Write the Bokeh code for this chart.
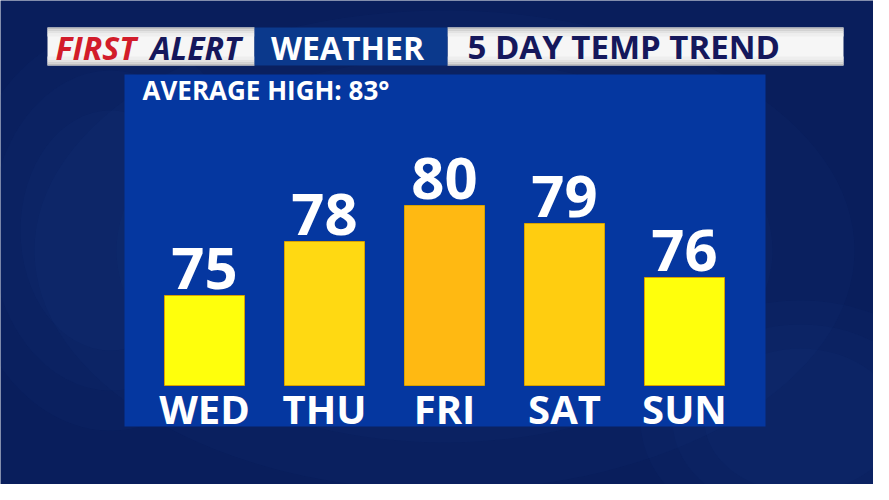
from bokeh.plotting import figure
from bokeh.models import Range1d, ColumnDataSource
from bokeh.core.properties import value
from bokeh.embed import file_html
from bokeh.resources import INLINE

# ---- data ----
days = ["WED", "THU", "FRI", "SAT", "SUN"]
temps = [75, 78, 80, 79, 76]
bar_colors = ["#ffff0c", "#ffd912", "#ffb912", "#ffcd10", "#ffff0c"]
avg_high = 83
header_parts = ["FIRST", "ALERT", "WEATHER", "5 DAY TEMP TREND"]

# ---- layout constants (reference pixel space) ----
W, H = 873, 484
BASE_T = 70                  # temperature at bar base
PX_PER_DEG = 18
BASE_Y = 385                 # screen y of bar base
X0, DX = 204, 120            # first bar centre, spacing
BAR_W = 80
K = 0.35                     # baseline correction (fraction of font size)

x_start = (0 - X0) / DX
x_end = (W - X0) / DX
y_start = BASE_T - (H - BASE_Y) / PX_PER_DEG
y_end = BASE_T + BASE_Y / PX_PER_DEG

p = figure(width=W, height=H, output_backend="svg", toolbar_location=None,
           x_range=Range1d(x_start, x_end), y_range=Range1d(y_start, y_end),
           min_border=0, outline_line_color=None,
           background_fill_color="#091e5c", border_fill_color="#091e5c")
p.axis.visible = False
p.grid.visible = False
p.extra_x_ranges = {"px": Range1d(0, W)}
p.extra_y_ranges = {"py": Range1d(H, 0)}

FONT = value("Open Sans")

def txt(x, y, s, color, size, style="bold", align="left"):
    p.text(x=[x], y=[y], text=[s], text_color=color, text_font=FONT,
           text_font_style=style, text_font_size=f"{size}px", text_baseline="alphabetic",
           text_align=align, y_offset=-K * size, x_range_name="px", y_range_name="py")

# background soft glow (layered, low alpha)
for s in (1.0, 0.8, 0.6):
    p.ellipse(x=[110, 800, 444], y=[230, 420, 250],
              width=[300 * s, 320 * s, 820 * s], height=[400 * s, 240 * s, 480 * s],
              fill_color="#1a3a8e", fill_alpha=0.08, line_color=None,
              x_range_name="px", y_range_name="py")

# header
p.quad(left=[47, 447], right=[254, 843], top=[27, 27], bottom=[65, 65],
       fill_color="#f6f6f6", line_color=None, x_range_name="px", y_range_name="py")
for (t, b, c) in [(27, 29, "#bdbdbd"), (29, 31, "#d2d2d2"), (31, 33, "#e2e2e2"), (33, 36, "#eeeeee"),
                  (63, 65, "#bdbdbd"), (61, 63, "#d2d2d2"), (59, 61, "#e2e2e2"), (56, 59, "#eeeeee")]:
    p.quad(left=[47, 447], right=[254, 843], top=[t, t], bottom=[b, b],
           fill_color=c, line_color=None, x_range_name="px", y_range_name="py")
p.quad(left=[254], right=[447], top=[27], bottom=[65], fill_color="#0b398c",
       line_color=None, x_range_name="px", y_range_name="py")

txt(55, 58, header_parts[0], "#d21c2a", 32, "bold italic")
txt(150, 58, header_parts[1], "#15185c", 32, "bold italic")
txt(347, 58, header_parts[2], "#ffffff", 32, "bold", "center")
txt(467, 58, header_parts[3], "#15185c", 33, "bold")

# panel
p.quad(left=[124], right=[765], top=[74], bottom=[426], fill_color="#0537a0",
       line_color=None, x_range_name="px", y_range_name="py")
txt(142, 99, f"AVERAGE HIGH: {avg_high}°", "#ffffff", 26)

# bars
src = ColumnDataSource(dict(x=list(range(len(days))), top=temps, color=bar_colors,
                            label=[str(t) for t in temps], day=days))
p.vbar(x="x", top="top", bottom=BASE_T, width=BAR_W / DX, fill_color="color",
       line_color="#d9a200", line_width=1, source=src)
VAL_FS = 58
p.text(x="x", y="top", text="label", source=src, text_color="#ffffff", text_font=FONT,
       text_font_style="bold", text_font_size=f"{VAL_FS}px", text_align="center",
       text_baseline="alphabetic", y_offset=-7 - K * VAL_FS)

# day labels (x through data scale, y fixed below base)
DAY_FS = 40
p.text(x="x", y=BASE_T - (422 - BASE_Y) / PX_PER_DEG, text="day", source=src,
       text_color="#ffffff", text_font=FONT, text_font_style="bold",
       text_font_size=f"{DAY_FS}px", text_align="center", text_baseline="alphabetic",
       y_offset=-K * DAY_FS)

open("out.html", "w").write(file_html(p, INLINE))
